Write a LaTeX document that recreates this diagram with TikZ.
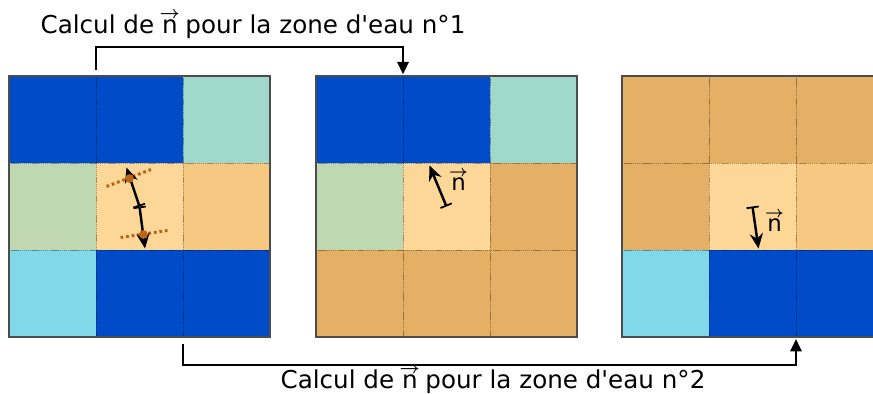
\documentclass[tikz,border=0pt]{standalone}
\usepackage{amsmath}
\usepackage{fontspec}
\setmainfont{DejaVu Sans}
\usetikzlibrary{arrows.meta, positioning, calc}

\definecolor{waterblue}{RGB}{0,75,200}
\definecolor{paleteal}{RGB}{160,216,203}
\definecolor{palegreen}{RGB}{192,216,178}
\definecolor{paleorange}{RGB}{253,215,151}
\definecolor{midorange}{RGB}{247,200,130}
\definecolor{tanland}{RGB}{228,176,101}
\definecolor{palecyan}{RGB}{128,216,232}
\definecolor{contactbrown}{RGB}{184,101,26}

\newcommand{\nvec}{%
    n\llap{\makebox[0.634em][c]{\raisebox{0.62em}[0pt][0pt]{$\scriptstyle\boldsymbol{\rightarrow}$}}}}

\begin{document}
\begin{tikzpicture}[
        x=0.02cm,
        y=-0.02cm,
        cell/.style={
            minimum size=1.74cm,
            inner sep=0pt,
            outer sep=0pt
        },
        gridline/.style={
            draw=black,
            draw opacity=0.35,
            line width=0.5pt,
            dash pattern=on 0.8pt off 0.4pt
        },
        gridframe/.style={
            draw=black!70,
            line width=0.6pt
        },
        link/.style={
            -{Triangle[length=7pt, width=6.5pt]},
            line width=1.1pt,
            black
        },
        normal/.style={
            {Bar[width=7pt, line width=1pt]}-{Stealth[length=8.5pt, width=7.5pt]},
            line width=1.4pt,
            black
        },
        tangent/.style={
            draw=contactbrown,
            line width=1.7pt,
            dash pattern=on 1.6pt off 1.6pt
        },
        contact/.style={
            circle,
            fill=contactbrown,
            minimum size=5pt,
            inner sep=0pt
        },
        caption/.style={
            font=\fontsize{14}{17}\selectfont
        },
        veclabel/.style={
            font=\fontsize{13}{15}\selectfont
        }
    ]

        \useasboundingbox (0,0) rectangle (873,394);
        \clip (0,0) rectangle (873,394);

        % ---------------------------------------------------------------------
        % First grid
        % ---------------------------------------------------------------------

        \foreach \r/\c/\clr in {
            1/1/waterblue, 1/2/waterblue, 1/3/paleteal,
            2/1/palegreen, 2/2/paleorange, 2/3/midorange,
            3/1/palecyan, 3/2/waterblue, 3/3/waterblue}
            \node[cell, fill=\clr] (grid1-\r\c)
                at ({9+87*(\c-0.5)}, {76+87*(\r-0.5)}) {};

        % ---------------------------------------------------------------------
        % Second grid
        % ---------------------------------------------------------------------

        \foreach \r/\c/\clr in {
            1/1/waterblue, 1/2/waterblue, 1/3/paleteal,
            2/1/palegreen, 2/2/paleorange, 2/3/tanland,
            3/1/tanland, 3/2/tanland, 3/3/tanland}
            \node[cell, fill=\clr] (grid2-\r\c)
                at ({316+87*(\c-0.5)}, {76+87*(\r-0.5)}) {};

        % ---------------------------------------------------------------------
        % Third grid
        % ---------------------------------------------------------------------

        \foreach \r/\c/\clr in {
            1/1/tanland, 1/2/tanland, 1/3/tanland,
            2/1/tanland, 2/2/paleorange, 2/3/midorange,
            3/1/palecyan, 3/2/waterblue, 3/3/waterblue}
            \node[cell, fill=\clr] (grid3-\r\c)
                at ({622+87*(\c-0.5)}, {76+87*(\r-0.5)}) {};

        % cell borders and frames
        \foreach \g in {1,2,3} {
            \foreach \k in {1,2} {
                \draw[gridline] (grid\g-1\k.north east) -- (grid\g-3\k.south east);
                \draw[gridline] (grid\g-\k1.south west) -- (grid\g-\k3.south east);
            }
            \draw[gridframe] (grid\g-11.north west) rectangle (grid\g-33.south east);
        }

        % ---------------------------------------------------------------------
        % Normals in the first grid
        % ---------------------------------------------------------------------

        \draw[tangent]
            ([shift={(-33,-20)}]grid1-22.center)
            --
            ([shift={(11.5,-37)}]grid1-22.center);

        \draw[tangent]
            ([shift={(-19,31)}]grid1-22.center)
            --
            ([shift={(28,24)}]grid1-22.center);

        \draw[normal]
            (grid1-22.center)
            --
            ([shift={(-13,-39)}]grid1-22.center);

        \draw[normal]
            (grid1-22.center)
            --
            ([shift={(5.5,42)}]grid1-22.center);

        \node[contact] (contact1) at ([shift={(-10,-28)}]grid1-22.center) {};
        \node[contact] (contact2) at ([shift={(4,28)}]grid1-22.center) {};

        % ---------------------------------------------------------------------
        % Normals in the second and third grids
        % ---------------------------------------------------------------------

        \draw[normal]
            (grid2-22.center)
            --
            ([shift={(-17,-41)}]grid2-22.center);

        \node[veclabel] (nlabel2) at ([shift={(12,-22)}]grid2-22.center) {\nvec};

        \draw[normal]
            (grid3-22.center)
            --
            ([shift={(6,42)}]grid3-22.center);

        \node[veclabel] (nlabel3) at ([shift={(22,19)}]grid3-22.center) {\nvec};

        % ---------------------------------------------------------------------
        % Links between grids
        % ---------------------------------------------------------------------

        \draw[link]
            ([yshift=3.7pt]grid1-12.north west)
            -- ++(0pt,13pt)
            -| ([yshift=1pt]grid2-12.north west);

        \draw[link]
            ([yshift=-4pt]grid1-33.south west)
            -- ++(0pt,-12pt)
            -| ([yshift=-1.2pt]grid3-33.south west);

        \node[caption] (caption1) at (253,27)
            {Calcul de \nvec{} pour la zone d\textquotesingle eau n°1};
        \node[caption] (caption2) at (493,382)
            {Calcul de \nvec{} pour la zone d\textquotesingle eau n°2};

\end{tikzpicture}
\end{document}
